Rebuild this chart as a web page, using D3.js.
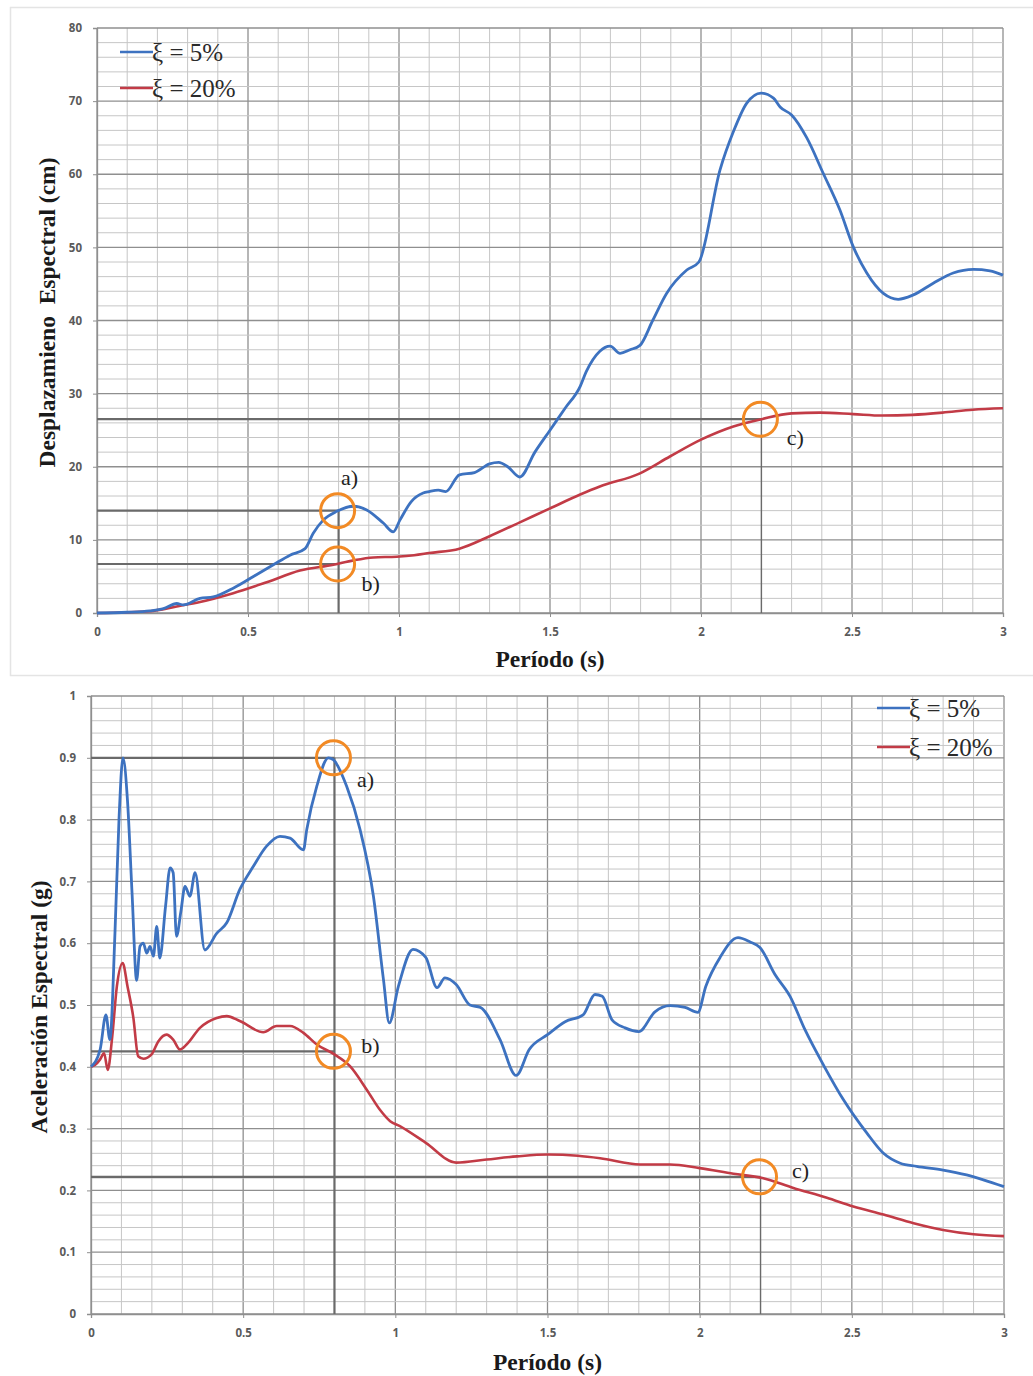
<!DOCTYPE html>
<html>
<head>
<meta charset="utf-8">
<script src="https://cdn.jsdelivr.net/npm/d3@7"></script>
<style>
  body { margin: 0; background: #fff; }
  svg { display: block; }
</style>
</head>
<body>
<svg id="chart" width="1033" height="1376"></svg>
<script>
// ---------- Spectral displacement (cm), damping 5 % ----------
const sdT5 = [0, 0.1, 0.175, 0.22, 0.264, 0.286, 0.341, 0.385, 0.451, 0.518, 0.584, 0.639, 0.689, 0.716, 0.749, 0.794,
  0.849, 0.893, 0.948, 0.981, 1.003, 1.04, 1.08, 1.1, 1.13, 1.155, 1.2, 1.25, 1.3, 1.33, 1.36, 1.4, 1.45, 1.5, 1.55,
  1.6, 1.62, 1.665, 1.699, 1.732, 1.765, 1.798, 1.84, 1.886, 1.953, 1.993, 2.063, 2.107, 2.151, 2.199, 2.24, 2.262,
  2.3, 2.35, 2.405, 2.46, 2.504, 2.549, 2.604, 2.653, 2.703, 2.769, 2.835, 2.902, 2.957, 3.0];
const sdV5 = [0, 0.1, 0.3, 0.6, 1.3, 1.1, 2.0, 2.2, 3.4, 5.0, 6.6, 7.9, 8.8, 10.9, 12.7, 13.9,
  14.6, 14.1, 12.3, 11.1, 12.7, 15.2, 16.4, 16.6, 16.8, 16.6, 18.9, 19.2, 20.4, 20.6, 20.0, 18.6, 22.0, 25.0, 28.0,
  31.0, 33.0, 35.8, 36.5, 35.5, 36.0, 36.6, 40.0, 43.7, 46.9, 48.0, 60.6, 65.8, 69.7, 71.1, 70.4, 69.2,
  68.1, 65.0, 60.1, 55.1, 50.1, 46.5, 43.7, 42.9, 43.5, 45.1, 46.5, 47.0, 46.8, 46.2];

// ---------- Spectral displacement (cm), damping 20 % ----------
const sdT20 = [0, 0.175, 0.264, 0.341, 0.451, 0.562, 0.672, 0.783, 0.849, 0.915, 0.992, 1.05, 1.1, 1.2, 1.3, 1.4,
  1.5, 1.6, 1.665, 1.798, 1.897, 2.0, 2.107, 2.2, 2.3, 2.394, 2.504, 2.6, 2.7, 2.8, 2.9, 3.0];
const sdV20 = [0, 0.25, 0.9, 1.5, 2.7, 4.2, 5.8, 6.6, 7.2, 7.6, 7.7, 7.9, 8.2, 8.8, 10.5, 12.4,
  14.3, 16.2, 17.3, 19.1, 21.4, 23.7, 25.5, 26.5, 27.3, 27.4, 27.2, 27.0, 27.1, 27.4, 27.8, 28.0];

// ---------- Spectral acceleration (g), damping 5 % ----------
const saT5 = [0, 0.03, 0.049, 0.062, 0.079, 0.092, 0.105, 0.12, 0.135, 0.15, 0.161, 0.172, 0.183, 0.194, 0.205,
  0.216, 0.226, 0.245, 0.26, 0.27, 0.281, 0.295, 0.309, 0.325, 0.342, 0.374, 0.413, 0.446, 0.489, 0.533, 0.577,
  0.621, 0.654, 0.698, 0.709, 0.742, 0.78, 0.796, 0.84, 0.884, 0.928, 0.961, 0.98, 1.01, 1.058, 1.1, 1.137, 1.163,
  1.2, 1.245, 1.28, 1.344, 1.397, 1.44, 1.5, 1.558, 1.617, 1.656, 1.68, 1.712, 1.755, 1.8, 1.853, 1.903, 1.952,
  1.994, 2.02, 2.067, 2.126, 2.166, 2.198, 2.248, 2.297, 2.346, 2.41, 2.472, 2.549, 2.604, 2.659, 2.713, 2.8,
  2.877, 2.932, 3.0];
const saV5 = [0.40, 0.428, 0.484, 0.444, 0.62, 0.80, 0.90, 0.83, 0.68, 0.54, 0.595, 0.60, 0.584, 0.595, 0.579,
  0.627, 0.576, 0.66, 0.722, 0.714, 0.611, 0.65, 0.692, 0.676, 0.714, 0.589, 0.616, 0.633, 0.687, 0.724, 0.757,
  0.773, 0.770, 0.751, 0.784, 0.854, 0.90, 0.897, 0.854, 0.784, 0.676, 0.541, 0.471, 0.53, 0.59, 0.577, 0.528, 0.544,
  0.533, 0.50, 0.496, 0.444, 0.386, 0.428, 0.452, 0.473, 0.484, 0.517, 0.514, 0.476, 0.463, 0.457, 0.489, 0.499, 0.496,
  0.488, 0.53, 0.577, 0.609, 0.602, 0.593, 0.549, 0.514, 0.46, 0.40, 0.347, 0.293, 0.26, 0.244, 0.239, 0.233,
  0.225, 0.217, 0.206];

// ---------- Spectral acceleration (g), damping 20 % ----------
const saT20 = [0, 0.013, 0.03, 0.043, 0.055, 0.07, 0.085, 0.104, 0.12, 0.139, 0.155, 0.172, 0.199, 0.221, 0.248,
  0.27, 0.292, 0.314, 0.358, 0.413, 0.446, 0.489, 0.566, 0.61, 0.654, 0.698, 0.742, 0.797, 0.851, 0.906, 0.95,
  0.983, 1.015, 1.1, 1.2, 1.3, 1.4, 1.5, 1.6, 1.673, 1.804, 1.903, 2.0, 2.111, 2.206, 2.308, 2.418, 2.505, 2.604,
  2.703, 2.8, 2.9, 3.0];
const saV20 = [0.40, 0.403, 0.412, 0.422, 0.395, 0.45, 0.53, 0.568, 0.53, 0.48, 0.417, 0.413, 0.42, 0.441, 0.452,
  0.444, 0.428, 0.436, 0.463, 0.479, 0.482, 0.474, 0.456, 0.466, 0.466, 0.455, 0.436, 0.421, 0.401, 0.363, 0.33,
  0.312, 0.304, 0.277, 0.245, 0.25, 0.255, 0.258, 0.256, 0.252, 0.242, 0.242, 0.236, 0.227, 0.22, 0.204, 0.188, 0.174, 0.161,
  0.147, 0.136, 0.129, 0.126];

// ---------- Axis ticks ----------
const periodTicks = [0, 0.5, 1, 1.5, 2, 2.5, 3];
const sdTicks = [0, 10, 20, 30, 40, 50, 60, 70, 80];
const saTicks = [0, 0.1, 0.2, 0.3, 0.4, 0.5, 0.6, 0.7, 0.8, 0.9, 1];

// ---------- Highlighted points (period, ordinate) ----------
const sdMarkT = [0.8, 0.8, 2.2];
const sdMarkV = [14, 6.7, 26.5];
const saMarkT = [0.8, 0.8, 2.2];
const saMarkV = [0.9, 0.425, 0.222];
const markLabels = ["a)", "b)", "c)"];

const seriesNames = ["\u03BE = 5%", "\u03BE = 20%"];
const BLUE = "#3d72c0";
const RED = "#c23b46";
const ORANGE = "#f28a24";

const svg = d3.select("#chart");
const serif = "'Liberation Serif', 'Times New Roman', serif";
const sans = "'Open Sans', 'Noto Sans', sans-serif";

// frame of the upper figure
svg.append("rect")
  .attr("x", 10.5).attr("y", 7.5).attr("width", 1030).attr("height", 668)
  .attr("fill", "none").attr("stroke", "#e4e4e4").attr("stroke-width", 1.5);

function drawPanel(cfg) {
  const g = svg.append("g");
  const x = d3.scaleLinear().domain([0, 3]).range([cfg.left, cfg.right]);
  const y = d3.scaleLinear().domain([0, cfg.yMax]).range([cfg.bottom, cfg.top]);

  // grid: minor every 0.1 s, major every 0.5 s
  const vMinor = d3.range(0, 31).map(i => i / 10);
  g.append("g").selectAll("line").data(vMinor).join("line")
    .attr("x1", d => x(d)).attr("x2", d => x(d))
    .attr("y1", y(0)).attr("y2", y(cfg.yMax))
    .attr("stroke", (d, i) => i % 5 === 0 ? "#8f8f8f" : "#c6c6c6")
    .attr("stroke-width", (d, i) => i % 5 === 0 ? 1.3 : 1);

  const hMinor = d3.range(0, cfg.nMinor + 1).map(i => i * cfg.yMax / cfg.nMinor);
  g.append("g").selectAll("line").data(hMinor).join("line")
    .attr("x1", x(0)).attr("x2", x(3))
    .attr("y1", d => y(d)).attr("y2", d => y(d))
    .attr("stroke", (d, i) => i % 5 === 0 ? "#8f8f8f" : "#c6c6c6")
    .attr("stroke-width", (d, i) => i % 5 === 0 ? 1.3 : 1);

  // axes
  const fmt = d3.format("~g");
  const ax = g.append("g").attr("transform", `translate(0,${cfg.bottom})`)
    .call(d3.axisBottom(x).tickValues(periodTicks).tickFormat(fmt).tickSize(4).tickPadding(11));
  const ay = g.append("g").attr("transform", `translate(${cfg.left},0)`)
    .call(d3.axisLeft(y).tickValues(cfg.yTicks).tickFormat(fmt).tickSize(4).tickPadding(11));
  [ax, ay].forEach(a => {
    a.select(".domain").attr("stroke", "#8f8f8f").attr("stroke-width", 1.3);
    a.selectAll(".tick line").attr("stroke", "#8f8f8f");
    a.selectAll(".tick text").attr("fill", "#5a5a5a")
      .style("font-family", sans).style("font-size", "11.5px").style("font-weight", 700);
  });

  // reference lines to highlighted points
  cfg.markT.forEach((t, i) => {
    g.append("line")
      .attr("x1", x(0)).attr("x2", x(t)).attr("y1", y(cfg.markV[i])).attr("y2", y(cfg.markV[i]))
      .attr("stroke", "#6a6a6a").attr("stroke-width", 2.2);
  });
  g.append("line")
    .attr("x1", x(cfg.markT[0])).attr("x2", x(cfg.markT[0]))
    .attr("y1", y(0)).attr("y2", y(d3.max([cfg.markV[0], cfg.markV[1]])))
    .attr("stroke", "#6a6a6a").attr("stroke-width", 2.2);
  g.append("line")
    .attr("x1", x(cfg.markT[2])).attr("x2", x(cfg.markT[2]))
    .attr("y1", y(0)).attr("y2", y(cfg.markV[2]))
    .attr("stroke", "#6a6a6a").attr("stroke-width", 1.4);

  // spectra
  const line = d3.line().x(d => x(d[0])).y(d => y(d[1])).curve(d3.curveMonotoneX);
  const s5 = cfg.t5.map((t, i) => [t, cfg.v5[i]]);
  const s20 = cfg.t20.map((t, i) => [t, cfg.v20[i]]);
  g.append("path").datum(s20).attr("d", line)
    .attr("fill", "none").attr("stroke", RED).attr("stroke-width", 2.6);
  g.append("path").datum(s5).attr("d", line)
    .attr("fill", "none").attr("stroke", BLUE).attr("stroke-width", 2.8);

  // highlight circles and their labels
  cfg.markT.forEach((t, i) => {
    g.append("circle").attr("cx", x(t) - 1).attr("cy", y(cfg.markV[i])).attr("r", 17)
      .attr("fill", "none").attr("stroke", ORANGE).attr("stroke-width", 3);
    g.append("text")
      .attr("x", x(t) + cfg.labelDx[i]).attr("y", y(cfg.markV[i]) + cfg.labelDy[i])
      .attr("text-anchor", "middle").attr("dominant-baseline", "central")
      .style("font-family", serif).style("font-size", "22px").attr("fill", "#222")
      .text(markLabels[i]);
  });

  // legend
  [BLUE, RED].forEach((c, i) => {
    const ly = cfg.legendY + i * cfg.legendGap;
    g.append("line").attr("x1", cfg.legendX).attr("x2", cfg.legendX + 33)
      .attr("y1", ly).attr("y2", ly).attr("stroke", c).attr("stroke-width", 2.6);
    g.append("text").attr("x", cfg.legendX + 32).attr("y", ly)
      .attr("dominant-baseline", "central")
      .style("font-family", serif).style("font-size", "25px").attr("fill", "#2a2a2a")
      .text(seriesNames[i]);
  });

  // axis titles
  g.append("text").attr("x", (cfg.left + cfg.right) / 2).attr("y", cfg.xTitleY)
    .attr("text-anchor", "middle").attr("dominant-baseline", "central")
    .style("font-family", serif).style("font-size", "23.5px").style("font-weight", 700).attr("fill", "#1a1a1a")
    .text("Período (s)");
  g.append("text")
    .attr("transform", `translate(${cfg.yTitleX},${(cfg.top + cfg.bottom) / 2 + cfg.yTitleShift}) rotate(-90)`)
    .attr("text-anchor", "middle").attr("dominant-baseline", "central")
    .style("font-family", serif).style("font-size", "23.5px").style("font-weight", 700).attr("fill", "#1a1a1a")
    .style("white-space", "pre")
    .text(cfg.yTitle);
}

drawPanel({
  left: 97, right: 1003, top: 28, bottom: 613, yMax: 80, nMinor: 40,
  yTicks: sdTicks, t5: sdT5, v5: sdV5, t20: sdT20, v20: sdV20,
  markT: sdMarkT, markV: sdMarkV, labelDx: [11, 32, 34], labelDy: [-33, 19, 18],
  legendX: 120, legendY: 52, legendGap: 36,
  xTitleY: 659, yTitleX: 47, yTitleShift: -8,
  yTitle: "Desplazamieno  Espectral (cm)"
});

drawPanel({
  left: 91, right: 1004, top: 696, bottom: 1314, yMax: 1, nMinor: 50,
  yTicks: saTicks, t5: saT5, v5: saV5, t20: saT20, v20: saV20,
  markT: saMarkT, markV: saMarkV, labelDx: [31, 36, 40], labelDy: [22, -6, -6],
  legendX: 877, legendY: 708, legendGap: 39,
  xTitleY: 1362, yTitleX: 39, yTitleShift: 2,
  yTitle: "Aceleración Espectral (g)"
});
</script>
</body>
</html>
